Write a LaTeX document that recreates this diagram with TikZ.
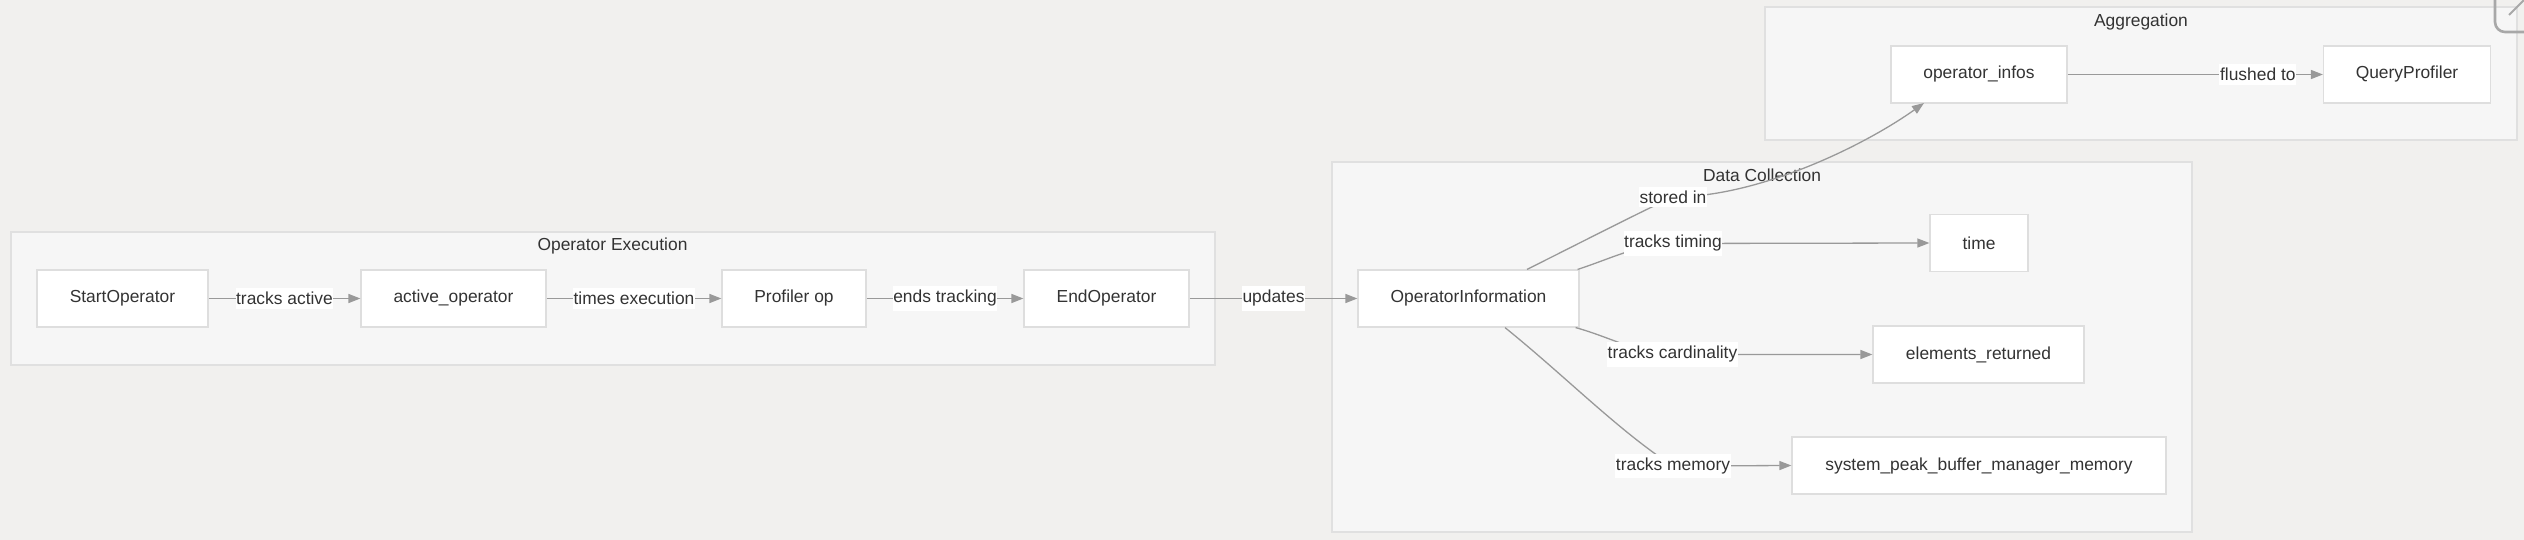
\documentclass[tikz,border=0pt]{standalone}
\usepackage{fontspec}
\setmainfont{Liberation Sans}
\usetikzlibrary{arrows.meta,calc}
\definecolor{bgc}{RGB}{241,240,238}
\definecolor{clfill}{RGB}{246,246,246}
\definecolor{cldraw}{RGB}{224,224,224}
\definecolor{nddraw}{RGB}{222,222,222}
\definecolor{edgec}{RGB}{153,153,153}
\definecolor{txtc}{RGB}{51,51,51}
\definecolor{btnc}{RGB}{168,168,168}
\begin{document}
\begin{tikzpicture}[x=0.5pt,y=-0.5pt,
  font=\fontsize{8.7}{10.4}\selectfont,
  every node/.style={text=txtc},
  cluster/.style={draw=cldraw,fill=clfill,line width=0.6pt},
  cltitle/.style={inner sep=0pt,anchor=center},
  box/.style={draw=nddraw,fill=white,line width=0.6pt,minimum height=28.5pt,inner sep=0pt,anchor=center},
  lbl/.style={fill=white,inner xsep=0.3pt,inner ysep=2pt,anchor=center},
  conn/.style={draw=edgec,line width=0.65pt,-{Triangle[length=6pt,width=4.5pt]}},
  plain/.style={draw=edgec,line width=0.65pt}]
\useasboundingbox (0,0) rectangle (2524,540);
\clip (0,0) rectangle (2524,540);
\fill[bgc] (0,0) rectangle (2524,540);

% clusters
\draw[cluster] (11,232) rectangle (1215,365);
\draw[cluster] (1332,162) rectangle (2192,532);
\draw[cluster] (1765,7) rectangle (2517,140);
\node[cltitle] (tOE) at (612.5,246) {Operator Execution};
\node[cltitle] (tDC) at (1762,175) {Data Collection};
\node[cltitle] (tAG) at (2141,22) {Aggregation};

% nodes
\node[box,minimum width=85.5pt] (so) at (122.5,298.5) {StartOperator};
\node[box,minimum width=92.5pt] (ao) at (453.5,298.5) {active\_operator};
\node[box,minimum width=72pt] (po) at (794,298.5) {Profiler op};
\node[box,minimum width=82.5pt] (eo) at (1106.5,298.5) {EndOperator};
\node[box,minimum width=110.5pt] (oinfo) at (1468.5,298.5) {OperatorInformation};
\node[box,minimum width=49pt] (time) at (1979,243) {time};
\node[box,minimum width=105.5pt] (er) at (1978.5,354.5) {elements\_returned};
\node[box,minimum width=187pt] (sys) at (1979,465.5) {system\_peak\_buffer\_manager\_memory};
\node[box,minimum width=88pt] (opi) at (1979,74.5) {operator\_infos};
\node[box,minimum width=83.5pt] (qp) at (2407,74.5) {QueryProfiler};

% straight connectors with labels
\draw[conn] (so) -- node[lbl] (l1) {tracks active} (ao);
\draw[conn] (ao) -- node[lbl] (l2) {times execution} (po);
\draw[conn] (po) -- node[lbl] (l3) {ends tracking} (eo);
\draw[conn] (eo) -- node[lbl] (l4) {updates} (oinfo);
\draw[conn] (opi) -- node[lbl,pos=0.745] (l5) {flushed to} (qp);

% curved connectors from OperatorInformation
\coordinate (csi) at (1673,197);
\coordinate (ctt) at (1673,243.5);
\coordinate (ctc) at (1672.5,354.5);
\coordinate (ctm) at (1673,466);
\coordinate (opiin) at (1924,103);
\draw[conn] ($(oinfo.north)+(58.5,0)$) .. controls (1570,248) and (1640,212) .. (csi)
  .. controls (1760,197) and (1865,145) .. (opiin);
\draw[conn] ($(oinfo.north east)+(-2,0)$) .. controls (1610,259) and (1640,243.5) .. (ctt) -- (time.west);
\draw[conn] ($(oinfo.south east)+(-4,0)$) .. controls (1610,337) and (1640,354.5) .. (ctc) -- (er.west);
\draw[conn] ($(oinfo.south)+(36.5,0)$) .. controls (1565,376) and (1620,432) .. (ctm) -- (sys.west);
\node[lbl] (l6) at (csi) {stored in};
\node[lbl] (l7) at (ctt) {tracks timing};
\node[lbl] (l8) at (ctc) {tracks cardinality};
\node[lbl] (l9) at (ctm) {tracks memory};

% corner button (partly cut off)
\draw[btnc,line width=1.3pt,rounded corners=5pt] (2495,-30) rectangle (2570,32);
\draw[btnc,line width=1pt] (2509,15) -- (2532,-8);
\end{tikzpicture}
\end{document}
